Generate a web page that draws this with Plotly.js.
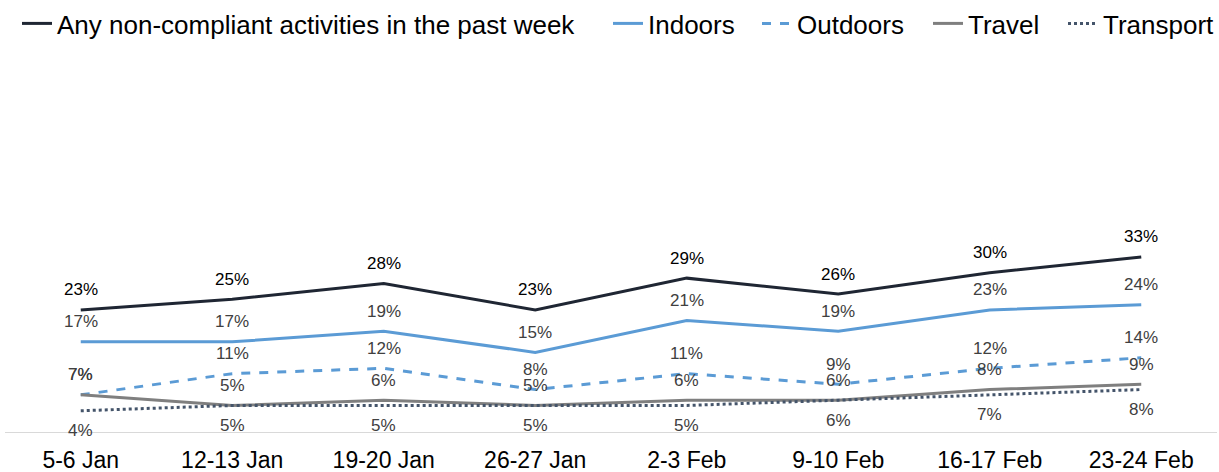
<!DOCTYPE html>
<html>
<head>
<meta charset="utf-8">
<script src="https://cdn.plot.ly/plotly-3.0.1.min.js"></script>
<style>html,body{margin:0;padding:0;background:#fff;}#chart{width:1219px;height:472px;}</style>
</head>
<body>
<div id="chart"></div>
<script>
var categories = ["5-6 Jan","12-13 Jan","19-20 Jan","26-27 Jan","2-3 Feb","9-10 Feb","16-17 Feb","23-24 Feb"];
var anyNonCompliant = [23,25,28,23,29,26,30,33];
var indoors = [17,17,19,15,21,19,23,24];
var outdoors = [7,11,12,8,11,9,12,14];
var travel = [7,5,6,5,6,6,8,9];
var transport = [4,5,5,5,5,6,7,8];

var seriesNames = ["Any non-compliant activities in the past week","Indoors","Outdoors","Travel","Transport"];

var FONT = "Liberation Sans, Arial, sans-serif";

var series = [
  {name: seriesNames[0], y: anyNonCompliant, color: "#1f2633", dash: "solid", labelColor: "#000000", above: true, legendStart: 22},
  {name: seriesNames[1], y: indoors, color: "#5b9bd5", dash: "solid", labelColor: "#404040", above: true, legendStart: 613},
  {name: seriesNames[2], y: outdoors, color: "#5b9bd5", dash: "dash", labelColor: "#404040", above: true, legendStart: 762},
  {name: seriesNames[3], y: travel, color: "#7f7f7f", dash: "solid", labelColor: "#404040", above: true, legendStart: 933},
  {name: seriesNames[4], y: transport, color: "#44546a", dash: "dot", labelColor: "#404040", above: false, legendStart: 1068}
];

var legendIds = ["legend","legend2","legend3","legend4","legend5"];

var traces = series.map(function(s, k){
  return {
    type: "scatter", mode: "lines", name: s.name,
    x: categories, y: s.y,
    legend: legendIds[k],
    line: {color: s.color, width: 3, dash: s.dash},
    hoverinfo: "skip"
  };
});

var annotations = [];
series.forEach(function(s){
  s.y.forEach(function(v, i){
    annotations.push({
      x: categories[i], y: v, xref: "x", yref: "y",
      text: v + "%", showarrow: false,
      yshift: s.above ? 20 : -20,
      font: {family: FONT, size: 17, color: s.labelColor}
    });
  });
});

var layout = {
  width: 1219, height: 472,
  margin: {l: 5, r: 2, t: 50, b: 40, autoexpand: false},
  paper_bgcolor: "#ffffff", plot_bgcolor: "#ffffff",
  showlegend: true,
  xaxis: {
    type: "category", range: [-0.5, 7.5],
    showgrid: false, zeroline: false,
    showline: true, linecolor: "#d9d9d9", linewidth: 1,
    ticks: "", ticklabelstandoff: 7,
    tickfont: {family: FONT, size: 23, color: "#000000"},
    fixedrange: true
  },
  yaxis: {
    range: [0, 72], showgrid: false, zeroline: false, showline: false,
    showticklabels: false, ticks: "", fixedrange: true
  },
  annotations: annotations
};

series.forEach(function(s, k){
  layout[legendIds[k]] = {
    orientation: "h",
    xref: "container", yref: "container",
    x: (s.legendStart - 5) / 1219, xanchor: "left",
    y: 1, yanchor: "top",
    font: {family: FONT, size: 26, color: "#000000"},
    bgcolor: "rgba(0,0,0,0)"
  };
});

Plotly.newPlot("chart", traces, layout, {displayModeBar: false, staticPlot: true});
</script>
</body>
</html>
